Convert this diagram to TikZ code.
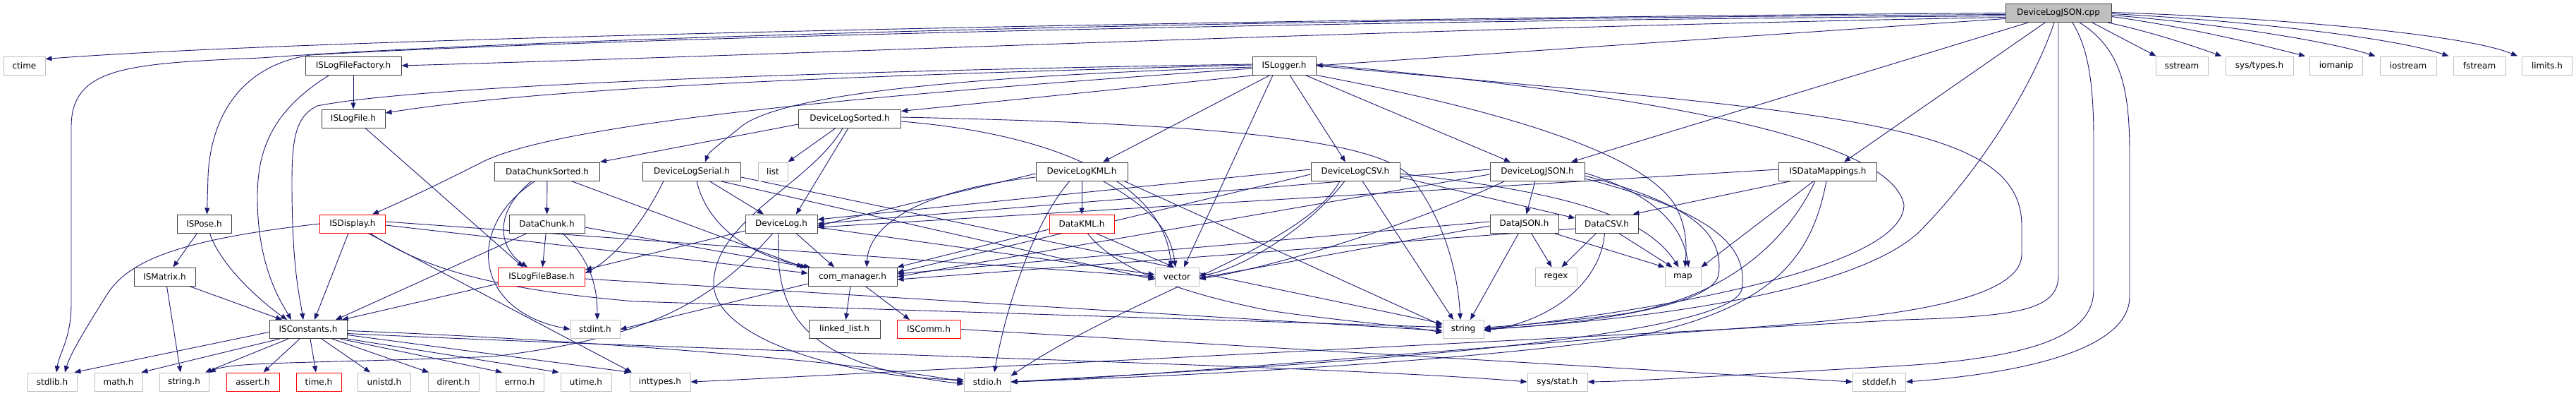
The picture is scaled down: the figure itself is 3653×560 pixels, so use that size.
\documentclass[tikz,border=0pt]{standalone}
\usepackage{fontspec}
\setmainfont{DejaVu Sans}
\usetikzlibrary{arrows.meta}
\pgfdeclarelayer{edgelayer}
\pgfsetlayers{edgelayer,main}
\definecolor{edgecol}{HTML}{191970}
\definecolor{boxgray}{HTML}{BFBFBF}
\definecolor{boxdark}{HTML}{404040}
\definecolor{boxred}{HTML}{FF0000}
\begin{document}
\begin{tikzpicture}[x=1pt,y=-1pt,
  basebox/.style={rectangle, minimum height=26pt, inner sep=0pt, font=\fontsize{12}{14}\selectfont, line width=1pt, fill=white},
  hdrbox/.style={basebox, draw=boxdark},
  sysbox/.style={basebox, draw=boxgray},
  redbox/.style={basebox, draw=boxred},
  rootbox/.style={basebox, draw=boxdark, fill=boxgray},
  dep/.style={draw=edgecol, line width=0.9pt, -{Triangle[length=9pt,width=7pt]}}
]
\useasboundingbox (0,0) rectangle (3653,560);
% nodes
\node[rootbox, minimum width=150pt] (cpp) at (2919,18.5) {DeviceLogJSON.cpp};
\node[sysbox, minimum width=59pt] (ctime) at (34.5,93) {ctime};
\node[hdrbox, minimum width=136pt] (fac) at (501,93) {ISLogFileFactory.h};
\node[hdrbox, minimum width=90pt] (logger) at (1821,93) {ISLogger.h};
\node[sysbox, minimum width=74pt] (sstream) at (3094,93) {sstream};
\node[sysbox, minimum width=96pt] (systypes) at (3204,93) {sys/types.h};
\node[sysbox, minimum width=75pt] (iomanip) at (3313,93) {iomanip};
\node[sysbox, minimum width=80pt] (iostream) at (3415,93) {iostream};
\node[sysbox, minimum width=74pt] (fstream) at (3516,93) {fstream};
\node[sysbox, minimum width=71pt] (limits) at (3612,93) {limits.h};
\node[hdrbox, minimum width=90pt] (logfile) at (501,168) {ISLogFile.h};
\node[hdrbox, minimum width=145pt] (sorted) at (1205,168) {DeviceLogSorted.h};
\node[hdrbox, minimum width=149pt] (dcsorted) at (776,243) {DataChunkSorted.h};
\node[hdrbox, minimum width=139pt] (serial) at (981,243) {DeviceLogSerial.h};
\node[sysbox, minimum width=42pt] (list) at (1096,243) {list};
\node[hdrbox, minimum width=130pt] (kml) at (1534,243) {DeviceLogKML.h};
\node[hdrbox, minimum width=126pt] (csv) at (1922,243) {DeviceLogCSV.h};
\node[hdrbox, minimum width=134pt] (djson) at (2180,243) {DeviceLogJSON.h};
\node[hdrbox, minimum width=139pt] (mappings) at (2592,243) {ISDataMappings.h};
\node[hdrbox, minimum width=77pt] (pose) at (289.5,317) {ISPose.h};
\node[redbox, minimum width=93pt] (display) at (500,317) {ISDisplay.h};
\node[hdrbox, minimum width=107pt] (dchunk) at (775.5,317) {DataChunk.h};
\node[hdrbox, minimum width=102pt] (devlog) at (1108,317) {DeviceLog.h};
\node[redbox, minimum width=92pt] (datakml) at (1534,317) {DataKML.h};
\node[hdrbox, minimum width=97pt] (datajson) at (2161.5,317) {DataJSON.h};
\node[hdrbox, minimum width=89pt] (datacsv) at (2278.5,317) {DataCSV.h};
\node[hdrbox, minimum width=87pt] (matrix) at (233.5,392) {ISMatrix.h};
\node[redbox, minimum width=123pt] (filebase) at (768,392) {ISLogFileBase.h};
\node[hdrbox, minimum width=126pt] (comm) at (1209,392) {com\_manager.h};
\node[sysbox, minimum width=62pt] (vector) at (1669,392) {vector};
\node[sysbox, minimum width=59pt] (regex) at (2206.5,392) {regex};
\node[sysbox, minimum width=51pt] (map) at (2386.5,392) {map};
\node[hdrbox, minimum width=110pt] (constants) at (437,466.5) {ISConstants.h};
\node[sysbox, minimum width=70pt] (stdint) at (844,466.5) {stdint.h};
\node[hdrbox, minimum width=101pt] (llist) at (1197.5,466.5) {linked\_list.h};
\node[redbox, minimum width=90pt] (iscomm) at (1317,466.5) {ISComm.h};
\node[sysbox, minimum width=58pt] (string) at (2075,466.5) {string};
\node[sysbox, minimum width=70pt] (stdlib) at (74,541) {stdlib.h};
\node[sysbox, minimum width=68pt] (math) at (168,541) {math.h};
\node[sysbox, minimum width=70pt] (stringh) at (261,541) {string.h};
\node[redbox, minimum width=75pt] (assert) at (358.5,541) {assert.h};
\node[redbox, minimum width=64pt] (timeh) at (452,541) {time.h};
\node[sysbox, minimum width=75pt] (unistd) at (545,541) {unistd.h};
\node[sysbox, minimum width=72pt] (dirent) at (643,541) {dirent.h};
\node[sysbox, minimum width=68pt] (errno) at (737,541) {errno.h};
\node[sysbox, minimum width=72pt] (utime) at (831,541) {utime.h};
\node[sysbox, minimum width=86pt] (inttypes) at (936,541) {inttypes.h};
\node[sysbox, minimum width=66pt] (stdio) at (1400,541) {stdio.h};
\node[sysbox, minimum width=85pt] (sysstat) at (2208.5,541) {sys/stat.h};
\node[sysbox, minimum width=75pt] (stddef) at (2665,541) {stddef.h};
\begin{pgfonlayer}{edgelayer}
% cpp edges
\draw[dep] (cpp.west) .. controls (2000,24) and (500,50) .. ([yshift=-4pt]ctime.north east);
\draw[dep] ([yshift=-2pt]cpp.west) .. controls (1600,28) and (700,58) .. (370,82) .. controls (180,90) and (101,95) .. (101,180) -- (101,430) .. controls (101,480) and (84,500) .. ([xshift=6pt]stdlib.north);
\draw[dep] ([yshift=-4pt]cpp.west) .. controls (1600,32) and (700,62) .. (440,78) .. controls (330,95) and (298,180) .. (295,250) -- ([xshift=4pt]pose.north);
\draw[dep] ([yshift=-6pt]cpp.west) .. controls (2000,40) and (1200,75) .. (fac.east);
\draw[dep] ([yshift=-8pt]cpp.west) -- (logger.east);
\draw[dep] ([xshift=-43pt]cpp.south) -- ([xshift=48pt]djson.north);
\draw[dep] ([xshift=-19pt]cpp.south) -- ([xshift=23pt]mappings.north);
\draw[dep] ([xshift=-6pt]cpp.south) .. controls (2880,130) and (2800,250) .. (2720,330) .. controls (2620,420) and (2300,455) .. (string.east);
\draw[dep] (cpp.south) -- (2919,390) .. controls (2919,440) and (2860,448) .. (2700,453) .. controls (2200,480) and (1500,515) .. (1380,521) .. controls (1200,530) and (1050,538) .. (inttypes.east);
\draw[dep] ([xshift=20pt]cpp.south) .. controls (2962,70) and (2969,120) .. (2969,200) -- (2969,410) .. controls (2969,470) and (2900,505) .. (2700,518) .. controls (2450,532) and (2320,540) .. (sysstat.east);
\draw[dep] ([xshift=30pt]cpp.south) .. controls (3010,70) and (3020,130) .. (3020,220) -- (3020,420) .. controls (3020,500) and (2850,530) .. (stddef.east);
\draw[dep] ([xshift=48pt]cpp.south) -- ([xshift=1pt]sstream.north west);
\draw[dep] ([xshift=70pt]cpp.south) .. controls (3050,45) and (3110,65) .. ([xshift=-5pt]systypes.north west);
\draw[dep] ([yshift=-5pt]cpp.east) .. controls (3100,38) and (3200,62) .. ([xshift=-6pt]iomanip.north west);
\draw[dep] ([yshift=-3pt]cpp.east) .. controls (3150,34) and (3300,58) .. ([xshift=-6pt]iostream.north west);
\draw[dep] ([yshift=-1pt]cpp.east) .. controls (3200,30) and (3400,55) .. ([xshift=-6pt]fstream.north west);
\draw[dep] ([yshift=1pt]cpp.east) .. controls (3250,26) and (3500,50) .. ([xshift=-6pt]limits.north west);
% ISLogger edges
\draw[dep] ([yshift=1pt]logger.west) .. controls (1300,105) and (800,120) .. ([yshift=8pt]logfile.east);
\draw[dep] ([yshift=2pt]logger.west) .. controls (1200,100) and (600,120) .. (450,150) .. controls (418,165) and (414,200) .. (414,260) .. controls (414,380) and (425,420) .. ([xshift=-7pt]constants.north);
\draw[dep] ([xshift=-40pt]logger.south) -- ([yshift=-3pt]sorted.north east);
\draw[dep] ([yshift=-2pt]logger.west) .. controls (1300,110) and (1100,140) .. (1050,180) .. controls (1020,205) and (1005,215) .. ([xshift=19pt]serial.north);
\draw[dep] ([yshift=-4pt]logger.west) .. controls (1300,130) and (800,170) .. (683,230) .. controls (620,262) and (560,290) .. ([xshift=28pt]display.north);
\draw[dep] ([xshift=-20pt]logger.south) -- ([xshift=30pt]kml.north);
\draw[dep] ([xshift=-16pt]logger.south) -- ([xshift=10pt]vector.north);
\draw[dep] ([xshift=8pt]logger.south) -- ([xshift=-14pt]csv.north);
\draw[dep] ([xshift=30pt]logger.south) -- ([xshift=-38pt]djson.north);
\draw[dep] (logger.south east) .. controls (2150,160) and (2330,220) .. (2375,290) .. controls (2392,320) and (2392,350) .. ([xshift=3pt]map.north);
\draw[dep] ([yshift=2pt]logger.east) .. controls (2300,130) and (2680,190) .. (2700,290) .. controls (2700,380) and (2350,440) .. (string.east);
\draw[dep] (logger.east) .. controls (2600,160) and (2867,170) .. (2867,320) -- (2867,360) .. controls (2867,440) and (2600,455) .. (2400,470) .. controls (2000,500) and (1600,535) .. (stdio.east);
% factory, logfile, pose, matrix
\draw[dep] (fac) -- (logfile);
\draw[dep] ([xshift=-34pt]fac.south) .. controls (380,160) and (365,220) .. (365,280) .. controls (365,380) and (400,430) .. ([xshift=-24pt]constants.north);
\draw[dep] ([xshift=17pt]logfile.south) -- ([xshift=-26pt]filebase.north);
\draw[dep] ([xshift=-10pt]pose.south) -- ([xshift=12pt]matrix.north);
\draw[dep] ([xshift=8pt]pose.south) .. controls (310,370) and (360,420) .. ([xshift=-30pt]constants.north);
\draw[dep] ([xshift=35pt]matrix.south) -- ([xshift=-37pt]constants.north);
\draw[dep] ([xshift=3pt]matrix.south) -- ([xshift=-5pt]stringh.north);
% display
\draw[dep] (display.west) .. controls (250,340) and (180,370) .. (150,420) .. controls (125,460) and (100,500) .. ([xshift=18pt]stdlib.north);
\draw[dep] ([xshift=-6pt]display.south) -- ([xshift=9pt]constants.north);
\draw[dep] ([yshift=-2pt]display.east) -- ([yshift=5pt]comm.west);
\draw[dep] ([yshift=3pt]display.east) -- (vector.west);
\draw[dep] ([xshift=22pt]display.south) -- ([xshift=-40pt]inttypes.north);
\draw[dep] ([xshift=25pt]display.south) .. controls (600,380) and (700,410) .. (900,427) -- ([yshift=3pt]string.west);
% DataChunkSorted, DataChunk, ISLogFileBase
\draw[dep] (dcsorted) -- (dchunk);
\draw[dep] ([xshift=-22pt]dcsorted.south) .. controls (700,300) and (706,350) .. ([xshift=-20pt]filebase.north);
\draw[dep] ([xshift=-17pt]dcsorted.south) .. controls (660,320) and (670,440) .. (stdint.west);
\draw[dep] ([xshift=34pt]dcsorted.south) -- ([xshift=-70pt]comm.north);
\draw[dep] ([xshift=-28pt]dchunk.south) -- ([xshift=39pt]constants.north);
\draw[dep] (dchunk) -- (filebase);
\draw[dep] ([xshift=22pt]dchunk.south) .. controls (840,370) and (847,410) .. ([xshift=3pt]stdint.north);
\draw[dep] ([yshift=-5pt]dchunk.east) -- ([xshift=-65pt]comm.north);
\draw[dep] ([yshift=-10pt]filebase.west) -- ([xshift=48pt]constants.north);
\draw[dep] ([yshift=-3pt]filebase.east) -- ([yshift=-2pt]string.west);
% ISConstants
\draw[dep] ([yshift=-4pt]constants.west) -- ([xshift=-4pt]stdlib.north east);
\draw[dep] ([xshift=-40pt]constants.south) -- ([xshift=-2pt]math.north east);
\draw[dep] ([xshift=-28pt]constants.south) -- ([xshift=30pt]stringh.north);
\draw[dep] ([xshift=-12pt]constants.south) -- ([xshift=15pt]assert.north);
\draw[dep] ([xshift=3pt]constants.south) -- ([xshift=-4pt]timeh.north);
\draw[dep] ([xshift=19pt]constants.south) -- ([xshift=-20pt]unistd.north);
\draw[dep] ([xshift=34pt]constants.south) -- ([xshift=-35pt]dirent.north);
\draw[dep] ([xshift=45pt]constants.south) -- ([xshift=-25pt]errno.north);
\draw[dep] (constants.south east) -- ([xshift=-2pt]utime.north west);
\draw[dep] ([yshift=-8pt]constants.east) -- ([xshift=2pt]inttypes.north west);
\draw[dep] ([yshift=-2pt]constants.east) .. controls (800,480) and (1200,510) .. (stdio.west);
\draw[dep] ([yshift=-6pt]constants.east) .. controls (1000,497) and (1900,518) .. (sysstat.west);
% com_manager, ISComm
\draw[dep] ([xshift=-3pt]comm.south) -- (llist);
\draw[dep] ([xshift=18pt]comm.south) -- ([xshift=-27pt]iscomm.north);
\draw[dep] ([yshift=-10pt]comm.west) -- (stdint.east);
\draw[dep] (iscomm.east) -- (stddef.west);
% DeviceLogSorted
\draw[dep] ([yshift=-8pt]sorted.west) -- (dcsorted.north east);
\draw[dep] ([xshift=-20pt]sorted.south) -- (list.north east);
\draw[dep] ([xshift=-2pt]sorted.south) -- ([xshift=21pt]devlog.north);
\draw[dep] ([xshift=-10pt]sorted.south) .. controls (1150,260) and (1015,310) .. (1012,400) .. controls (1010,480) and (1200,535) .. ([yshift=3pt]stdio.west);
\draw[dep] ([yshift=-4pt]sorted.east) .. controls (1500,190) and (1650,260) .. ([xshift=-8pt]vector.north);
\draw[dep] ([yshift=2pt]sorted.east) .. controls (1700,175) and (1950,195) .. (2000,250) .. controls (2055,320) and (2068,400) .. ([xshift=-4pt]string.north);
% DeviceLogSerial
\draw[dep] ([xshift=25pt]serial.south) -- ([xshift=-25pt]devlog.north);
\draw[dep] ([xshift=7pt]serial.south) .. controls (1000,310) and (1050,360) .. ([xshift=-60pt]comm.north);
\draw[dep] ([xshift=40pt]serial.south) -- ([yshift=-4pt]vector.west);
\draw[dep] ([yshift=-8pt]serial.east) -- ([yshift=8pt]string.west);
\draw[dep] ([xshift=-40pt]serial.south) .. controls (920,300) and (880,360) .. ([yshift=5pt]filebase.east);
% DeviceLogKML, DataKML
\draw[dep] (kml) -- (datakml);
\draw[dep] ([yshift=-3pt]kml.west) -- ([yshift=-3pt]devlog.east);
\draw[dep] ([yshift=-8pt]kml.west) .. controls (1300,270) and (1232,320) .. ([xshift=20pt]comm.north);
\draw[dep] ([xshift=30pt]kml.south) .. controls (1640,300) and (1660,330) .. ([xshift=-2pt]vector.north);
\draw[dep] ([xshift=-17pt]kml.south) .. controls (1470,310) and (1430,420) .. ([xshift=10pt]stdio.north);
\draw[dep] ([xshift=60pt]kml.south) -- ([yshift=5pt]string.west);
\draw[dep] ([yshift=-8pt]datakml.west) -- (comm.north east);
\draw[dep] ([xshift=20pt]datakml.south) -- ([xshift=-4pt]vector.north);
\draw[dep] ([xshift=8pt]datakml.south) .. controls (1590,390) and (1700,420) .. (1800,440) .. controls (1900,455) and (2000,462) .. ([yshift=-5pt]string.west);
% DeviceLog
\draw[dep] ([xshift=21pt]devlog.south) -- ([xshift=-26pt]comm.north);
\draw[dep] ([yshift=-10pt]devlog.west) -- ([yshift=10pt]filebase.east);
\draw[dep] ([yshift=-5pt]devlog.east) -- ([yshift=3pt]vector.west);
\draw[dep] ([xshift=-4pt]devlog.south) .. controls (1100,430) and (1120,515) .. ([yshift=-3pt]stdio.west);
\draw[dep] ([xshift=-12pt]devlog.south) .. controls (1000,440) and (900,480) .. (700,505) .. controls (450,515) and (330,512) .. (stringh.north east);
% DeviceLogCSV
\draw[dep] ([yshift=3pt]csv.west) -- ([yshift=6pt]devlog.east);
\draw[dep] ([yshift=-4pt]csv.west) -- ([yshift=6pt]comm.east);
\draw[dep] ([yshift=-8pt]csv.east) -- ([yshift=8pt]datacsv.west);
\draw[dep] ([xshift=-15pt]csv.south) .. controls (1850,330) and (1750,385) .. ([yshift=2pt]vector.east);
\draw[dep] ([xshift=-22pt]csv.south) .. controls (1850,350) and (1600,420) .. ([yshift=-5pt]stdio.north east);
\draw[dep] ([xshift=10pt]csv.south) -- ([xshift=-14pt]string.north);
\draw[dep] ([yshift=-3pt]csv.east) .. controls (2200,270) and (2330,300) .. ([xshift=-6pt]map.north);
% DeviceLogJSON
\draw[dep] ([yshift=3pt]djson.west) -- (devlog.east);
\draw[dep] ([yshift=-4pt]djson.west) -- (comm.east);
\draw[dep] ([xshift=-3pt]djson.south) -- ([xshift=3pt]datajson.north);
\draw[dep] ([xshift=-46pt]djson.south) .. controls (2000,320) and (1800,380) .. ([yshift=-3pt]vector.east);
\draw[dep] ([yshift=-2pt]djson.east) .. controls (2330,270) and (2385,310) .. ([xshift=8pt]map.north);
\draw[dep] ([yshift=-6pt]djson.east) .. controls (2400,290) and (2445,330) .. (2437,390) .. controls (2425,440) and (2200,462) .. (string.east);
\draw[dep] ([yshift=-10pt]djson.east) .. controls (2430,300) and (2480,350) .. (2470,410) .. controls (2450,490) and (1700,525) .. (stdio.east);
% ISDataMappings
\draw[dep] ([xshift=-52pt]mappings.south) -- ([xshift=-8pt]datacsv.north east);
\draw[dep] ([yshift=3pt]mappings.west) -- ([yshift=-5pt]devlog.east);
\draw[dep] ([xshift=-20pt]mappings.south) -- (map.north east);
\draw[dep] ([xshift=-18pt]mappings.south) .. controls (2540,330) and (2460,420) .. (2300,445) .. controls (2200,458) and (2130,462) .. ([yshift=2pt]string.east);
\draw[dep] ([xshift=-2pt]mappings.south) .. controls (2570,360) and (2520,440) .. (2300,480) .. controls (2000,520) and (1600,535) .. (stdio.east);
% DataJSON
\draw[dep] ([xshift=10pt]datajson.south) -- ([xshift=-6pt]regex.north);
\draw[dep] ([xshift=42pt]datajson.south) -- (map.north west);
\draw[dep] ([xshift=-8pt]datajson.south) -- ([xshift=10pt]string.north);
\draw[dep] ([yshift=3pt]datajson.west) -- ([yshift=4pt]comm.east);
\draw[dep] ([yshift=-3pt]datajson.west) -- ([yshift=-2pt]vector.east);
% DataCSV
\draw[dep] ([xshift=-15pt]datacsv.south) -- ([xshift=8pt]regex.north);
\draw[dep] ([xshift=17pt]datacsv.south) -- ([xshift=-15pt]map.north);
\draw[dep] ([xshift=-3pt]datacsv.south) .. controls (2270,400) and (2200,455) .. ([yshift=-2pt]string.east);
\draw[dep] ([yshift=-7pt]datacsv.west) -- ([yshift=-4pt]comm.east);
\end{pgfonlayer}
\end{tikzpicture}
\end{document}
